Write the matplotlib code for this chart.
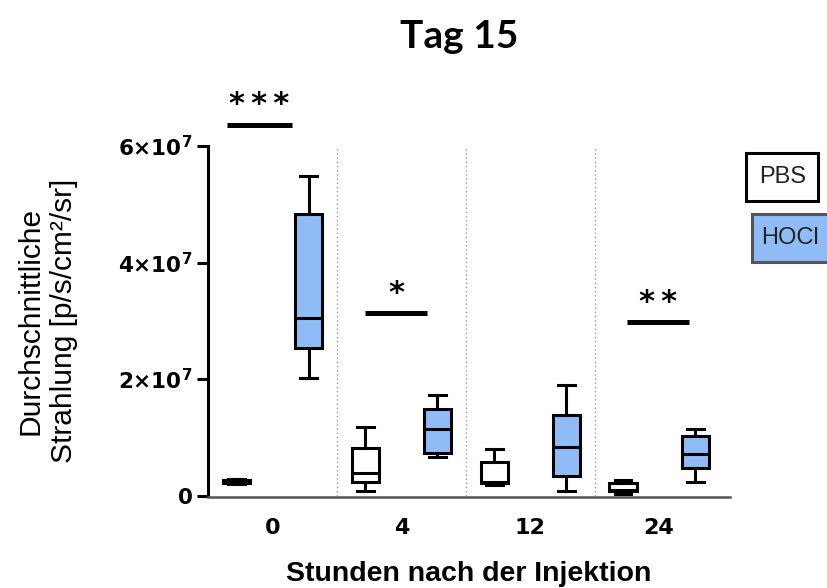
import matplotlib.pyplot as plt
from matplotlib.patches import Rectangle
import numpy as np

plt.rcParams['mathtext.fontset'] = 'custom'
plt.rcParams['mathtext.rm'] = 'DejaVu Sans:bold'
plt.rcParams['mathtext.bf'] = 'DejaVu Sans:bold'

# hours after injection
hours = ['0', '4', '12', '24']

# box statistics, in units of 1e7 p/s/cm²/sr
pbs_low = [0.19, 0.07, 0.18, 0.02]
pbs_q1 = [0.22, 0.23, 0.21, 0.08]
pbs_med = [0.24, 0.38, 0.23, 0.10]
pbs_q3 = [0.27, 0.82, 0.57, 0.22]
pbs_high = [0.28, 1.17, 0.79, 0.26]

hocl_low = [2.02, 0.66, 0.08, 0.24]
hocl_q1 = [2.53, 0.73, 0.34, 0.48]
hocl_med = [3.05, 1.14, 0.83, 0.72]
hocl_q3 = [4.84, 1.49, 1.39, 1.02]
hocl_high = [5.49, 1.73, 1.90, 1.14]

# significance marks per time point
sig_labels = ['***', '*', '', '**']
sig_height = [6.36, 3.13, 0, 2.97]
sig_x0 = [-0.35, 0.72, 0, 2.75]
sig_x1 = [0.15, 1.20, 0, 3.23]

blue = '#8fbcf7'
lw = 2.2


def box_stats(lo, q1, med, q3, hi):
    return [dict(whislo=a * 1e7, q1=b * 1e7, med=c * 1e7, q3=d * 1e7,
                 whishi=e * 1e7, fliers=[])
            for a, b, c, d, e in zip(lo, q1, med, q3, hi)]


fig = plt.figure(figsize=(8.27, 5.88), dpi=100)
W, H = 827, 588
ax = fig.add_axes([208 / W, (H - 495.5) / H, (730 - 208) / W, (495.5 - 146) / H])

pos = np.arange(len(hours))
offset = 0.28


def draw_boxes(stats, x, face):
    ax.bxp(stats, positions=x, widths=0.21, capwidths=0.13,
           patch_artist=True, showfliers=False, manage_ticks=False,
           boxprops=dict(facecolor=face, edgecolor='black', linewidth=lw),
           medianprops=dict(color='black', linewidth=lw),
           whiskerprops=dict(color='black', linewidth=lw),
           capprops=dict(color='black', linewidth=lw))


draw_boxes(box_stats(pbs_low, pbs_q1, pbs_med, pbs_q3, pbs_high), pos - offset, 'white')
draw_boxes(box_stats(hocl_low, hocl_q1, hocl_med, hocl_q3, hocl_high), pos + offset, blue)

# dotted separators between time points
ax.vlines(pos[:-1] + 0.5, 0, 6e7, colors='#9a9a9a', linestyles=(0, (1, 2)), linewidth=1.0)

for s in ['top', 'right']:
    ax.spines[s].set_visible(False)
ax.spines['left'].set_linewidth(lw)
ax.spines['left'].set_bounds(0, 6e7)
ax.spines['bottom'].set_color('#555555')
ax.spines['bottom'].set_linewidth(1.8)
ax.spines['bottom'].set_position(('outward', 1))

ax.set_xlim(-0.5, 3.55)
ax.set_ylim(0, 6e7)
ax.set_xticks(pos, hours)
ax.set_yticks([0, 2e7, 4e7, 6e7],
              ['0', r'$2{\times}10^{7}$', r'$4{\times}10^{7}$', r'$6{\times}10^{7}$'])
ax.tick_params(axis='x', length=0, pad=15, labelsize=16)
ax.tick_params(axis='y', direction='out', length=8, width=lw, pad=3, labelsize=15.5)
for t in ax.get_xticklabels() + ax.get_yticklabels():
    t.set_fontweight('bold')

# significance bars and stars
for lab, h, x0, x1 in zip(sig_labels, sig_height, sig_x0, sig_x1):
    if not lab:
        continue
    ax.plot([x0, x1], [h * 1e7, h * 1e7], color='black', lw=3.6,
            solid_capstyle='butt', clip_on=False)
    ax.annotate('\u2009'.join(lab), xy=((x0 + x1) / 2, h * 1e7), xytext=(0, 4),
                textcoords='offset points', ha='center', va='bottom',
                annotation_clip=False,
                fontsize=22, fontweight='bold', family='DejaVu Sans')

ax.set_ylabel('Durchschnittliche\nStrahlung [p/s/cm²/sr]', family='Liberation Sans',
              fontsize=21.5, labelpad=29, linespacing=1.25)
ax.set_xlabel('Stunden nach der Injektion', family='Liberation Sans',
              fontsize=20.5, fontweight='bold', labelpad=17)

fig.text(459 / W, 1 - 37 / H, 'Tag 15', family='Lato', fontweight='bold',
         fontsize=28, ha='center', va='center')

# legend boxes
fig.add_artist(Rectangle((746 / W, 1 - 201 / H), 72 / W, 48 / H, transform=fig.transFigure,
                         facecolor='white', edgecolor='black', linewidth=lw))
fig.text(783 / W, 1 - 177 / H, 'PBS', family='Liberation Sans', fontsize=17,
         ha='center', va='center', color='#222222')
fig.add_artist(Rectangle((752 / W, 1 - 262 / H), 80 / W, 48 / H, transform=fig.transFigure,
                         facecolor=blue, edgecolor='#555555', linewidth=lw))
fig.text(790 / W, 1 - 238 / H, 'HOCl', family='Liberation Sans', fontsize=17,
         ha='center', va='center', color='#222222')

fig.savefig('out.png', dpi=100)
